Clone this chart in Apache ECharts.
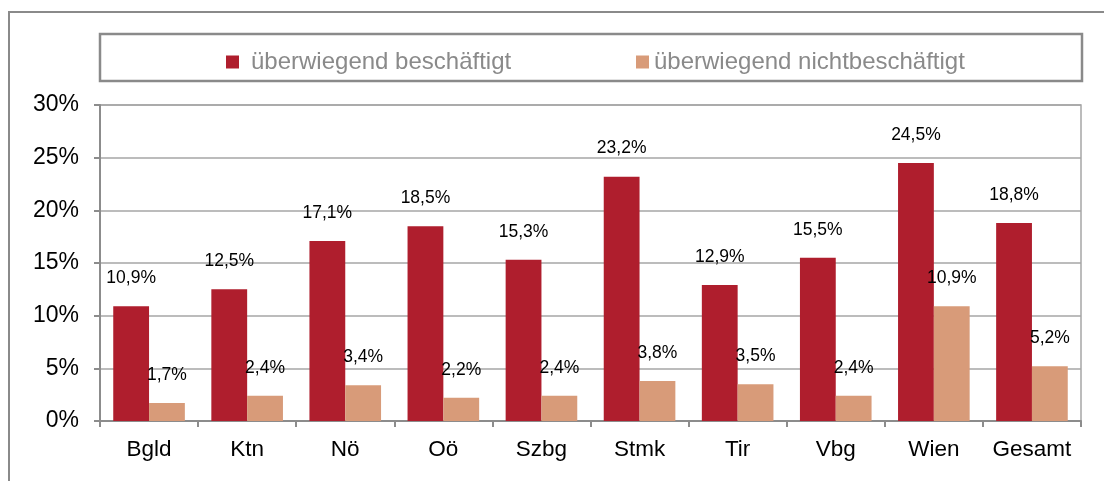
<!DOCTYPE html>
<html><head><meta charset="utf-8">
<script src="https://cdn.jsdelivr.net/npm/echarts@6/dist/echarts.min.js"></script>
<style>html,body{margin:0;padding:0;background:#fff}#c{width:1104px;height:481px}</style>
</head><body><div id="c"></div>
<script>
const categories = ['Bgld','Ktn','Nö','Oö','Szbg','Stmk','Tir','Vbg','Wien','Gesamt'];
const seriesNames = ['überwiegend beschäftigt','überwiegend nichtbeschäftigt'];
const beschaeftigt = [10.9,12.5,17.1,18.5,15.3,23.2,12.9,15.5,24.5,18.8];
const nichtbeschaeftigt = [1.7,2.4,3.4,2.2,2.4,3.8,3.5,2.4,10.9,5.2];
const yTicks = [0,5,10,15,20,25,30];

const FONT = '"Liberation Sans", Arial, sans-serif';
const chart = echarts.init(document.getElementById('c'), null, {renderer:'canvas'});
const lbl = {show:true, position:'top', distance:19, color:'#000', fontSize:17.5, fontFamily:FONT,
  formatter: p => p.value.toFixed(1).replace('.', ',') + '%'};
chart.setOption({
  animation:false,
  graphic:[
    {type:'rect', shape:{x:9,y:12,width:1200,height:600}, style:{fill:'none', stroke:'#8a8a8a', lineWidth:2}, z:0},
    {type:'rect', shape:{x:100,y:34,width:982,height:47}, style:{fill:'#fff', stroke:'#8a8a8a', lineWidth:2.5}, z:0}
  ],
  legend:[
    {data:[seriesNames[0]], left:221, top:45, itemWidth:13, itemHeight:13, icon:'rect',
     textStyle:{color:'#8a8a8a', fontSize:24, fontFamily:FONT, padding:[0,0,0,7]}},
    {data:[seriesNames[1]], left:631, top:45, itemWidth:13, itemHeight:13, icon:'rect',
     textStyle:{color:'#8a8a8a', fontSize:24, fontFamily:FONT}}
  ],
  grid:{left:100, right:23, top:105, bottom:60, show:true, borderColor:'#a6a6a6', borderWidth:1.5},
  xAxis:{type:'category', data:categories,
    axisLine:{lineStyle:{color:'#8c8c8c', width:2}},
    axisTick:{show:true, interval:0, length:6, lineStyle:{color:'#8c8c8c', width:2}},
    axisLabel:{interval:0, hideOverlap:false, color:'#000', fontSize:22.5, fontFamily:FONT, margin:17}},
  yAxis:{type:'value', min:yTicks[0], max:yTicks[yTicks.length-1], interval:5,
    axisLine:{show:true, lineStyle:{color:'#8c8c8c', width:2}},
    axisTick:{show:true, length:6, lineStyle:{color:'#8c8c8c', width:2}},
    splitLine:{lineStyle:{color:'#a6a6a6', width:1.5}},
    axisLabel:{color:'#000', fontSize:23, fontFamily:FONT, margin:21, formatter: v => v + '%'}},
  series:[
    {name:seriesNames[0], type:'bar', data:beschaeftigt, barGap:'0%', barCategoryGap:'27%',
     itemStyle:{color:'#AF1E2D'}, label:lbl},
    {name:seriesNames[1], type:'bar', data:nichtbeschaeftigt, barGap:'0%', barCategoryGap:'27%',
     itemStyle:{color:'#D89B79'}, label:lbl}
  ]
});
</script></body></html>
